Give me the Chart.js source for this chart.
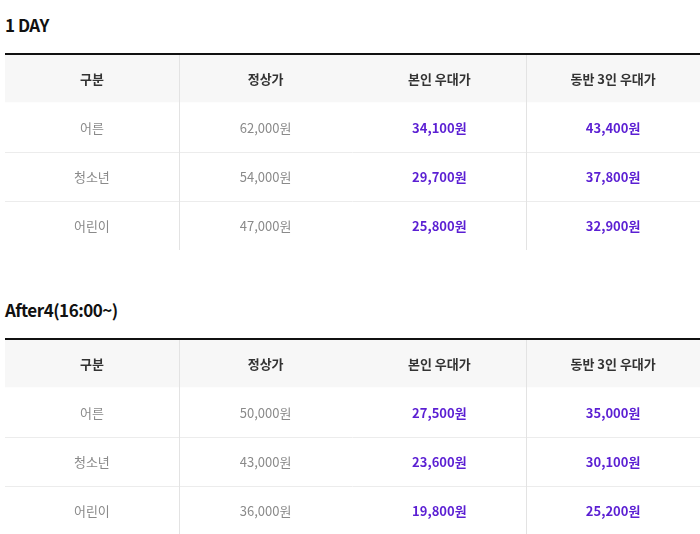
<!DOCTYPE html>
<html><head><meta charset="utf-8">
<script src="https://cdn.jsdelivr.net/npm/chart.js@4"></script>
<style>
body{margin:0;width:700px;height:534px;background:#fff;font-family:"Noto Sans CJK KR","Noto Sans",sans-serif;position:relative;overflow:hidden}
h3{position:absolute;left:5px;margin:0;font-size:17px;font-weight:700;color:#111;letter-spacing:-0.5px}
.w{position:absolute;left:0;width:700px;height:198px}
</style></head><body>
<h3 style="top:12px">1 DAY</h3>
<h3 style="top:297px">After4(16:00~)</h3>
<div class="w" style="top:52px"><canvas id="c1"></canvas></div>
<div class="w" style="top:337px"><canvas id="c2"></canvas></div>
<script>
const columns=["구분","정상가","본인 우대가","동반 3인 우대가"];
const categories=["어른","청소년","어린이"];
const dayRegular=["62,000원","54,000원","47,000원"];
const dayOwn=["34,100원","29,700원","25,800원"];
const dayGroup=["43,400원","37,800원","32,900원"];
const aftRegular=["50,000원","43,000원","36,000원"];
const aftOwn=["27,500원","23,600원","19,800원"];
const aftGroup=["35,000원","30,100원","25,200원"];
const FONT='"Noto Sans CJK KR","Noto Sans",sans-serif';
function make(id,reg,own,grp){
  const rows=["head"].concat(categories);
  const cells=[columns].concat(categories.map((c,i)=>[c,reg[i],own[i],grp[i]]));
  const plugin={id:'tbl',afterDraw(ch){
    const ctx=ch.ctx,xs=ch.scales.x,ys=ch.scales.y;
    const cw=(xs.right-xs.left)/columns.length, rh=(ys.bottom-ys.top)/rows.length;
    ctx.save();
    // header bg
    const hy=ys.getPixelForValue(0)-rh/2;
    ctx.fillStyle='#f7f7f7';ctx.fillRect(xs.left,hy,xs.right-xs.left,rh);
    // row lines
    ctx.strokeStyle='#ececec';ctx.lineWidth=1;
    for(let j=1;j<rows.length;j++){const y=Math.round(ys.getPixelForValue(j)+rh/2)+0.5;ctx.beginPath();ctx.moveTo(xs.left,y);ctx.lineTo(xs.right,y);ctx.stroke();}
    // vertical lines
    ctx.strokeStyle='#e3e3e3';
    [1,3].forEach(i=>{const x=Math.round(xs.getPixelForValue(i)-cw/2)+0.5;ctx.beginPath();ctx.moveTo(x,ys.top);ctx.lineTo(x,ys.bottom);ctx.stroke();});
    // top border
    ctx.fillStyle='#111';ctx.fillRect(xs.left,ys.top,xs.right-xs.left,2);
    ctx.textAlign='center';ctx.textBaseline='middle';
    cells.forEach((r,j)=>r.forEach((t,i)=>{
      const x=xs.getPixelForValue(i),y=ys.getPixelForValue(j)+1;
      if(j===0){ctx.font='bold 13px '+FONT;ctx.fillStyle='#333';}
      else if(i>=2){ctx.font='bold 13px '+FONT;ctx.fillStyle='#5b1fd3';}
      else{ctx.font='13px '+FONT;ctx.fillStyle='#8a8a8a';}
      ctx.fillText(t,x,y);
    }));
    ctx.restore();
  }};
  new Chart(document.getElementById(id),{type:'bar',
    data:{labels:columns,datasets:[{data:[0,0,0,0],backgroundColor:'transparent'}]},
    options:{responsive:true,maintainAspectRatio:false,animation:false,
      layout:{padding:{left:5,right:0,top:1,bottom:0}},
      plugins:{legend:{display:false},tooltip:{enabled:false}},
      scales:{x:{type:'category',labels:columns,display:false,offset:true},
              y:{type:'category',labels:rows,display:false,offset:true}}},
    plugins:[plugin]});
}
make('c1',dayRegular,dayOwn,dayGroup);
make('c2',aftRegular,aftOwn,aftGroup);
</script></body></html>
